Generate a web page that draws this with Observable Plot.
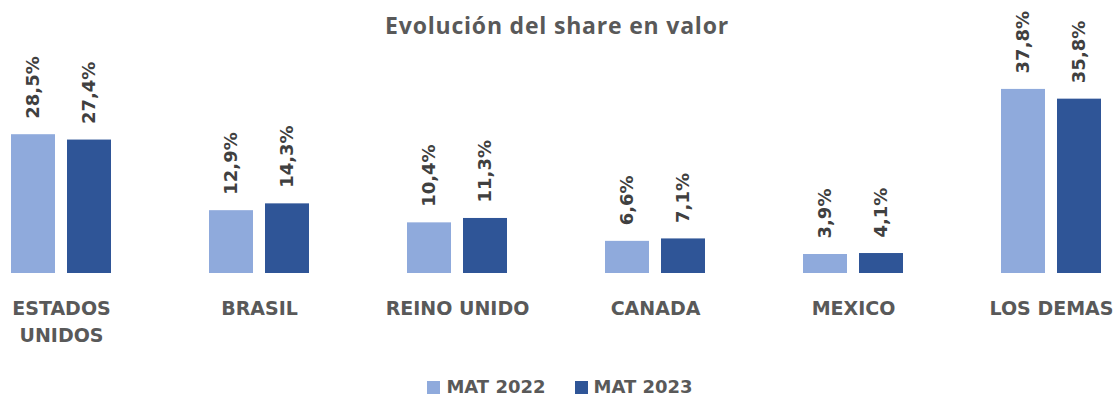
<!DOCTYPE html>
<html>
<head>
<meta charset="utf-8">
<script src="https://cdn.jsdelivr.net/npm/d3@7"></script>
<script src="https://cdn.jsdelivr.net/npm/@observablehq/plot@0.6"></script>
<style>
  html, body { margin: 0; padding: 0; background: #fff; }
  #wrap { position: relative; width: 1120px; height: 402px; overflow: hidden; font-family: "Open Sans", sans-serif; }
  #title { position: absolute; top: 9px; left: 0; width: 1114px; text-align: center; font-size: 23px; font-weight: bold; letter-spacing: 0.8px; color: #595959; }
  #legend { position: absolute; top: 377px; left: 0; width: 1120px; display: flex; justify-content: center; gap: 29px; font-family: "DejaVu Sans", sans-serif; font-size: 18px; font-weight: bold; color: #595959; line-height: 20px; }
  #legend span.item { display: inline-flex; align-items: center; gap: 6px; }
  #legend span.sw { display: inline-block; width: 13px; height: 13px; }
  #chart svg { position: absolute; top: 0; left: 0; }
</style>
</head>
<body>
<div id="wrap">
  <div id="title">Evolución del share en valor</div>
  <div id="chart"></div>
  <div id="legend"></div>
</div>
<script>
const categories = ["ESTADOS UNIDOS", "BRASIL", "REINO UNIDO", "CANADA", "MEXICO", "LOS DEMAS"];
const tickLabels = ["ESTADOS\nUNIDOS", "BRASIL", "REINO UNIDO", "CANADA", "MEXICO", "LOS DEMAS"];
const series = ["MAT 2022", "MAT 2023"];
const mat2022 = [28.5, 12.9, 10.4, 6.6, 3.9, 37.8];
const mat2023 = [27.4, 14.3, 11.3, 7.1, 4.1, 35.8];
const colors = ["#8FAADC", "#2F5597"];

const rows = [];
categories.forEach((c, i) => {
  rows.push({cat: c, series: series[0], value: mat2022[i]});
  rows.push({cat: c, series: series[1], value: mat2023[i]});
});
const labelRows = categories.map((c, i) => ({cat: c, label: tickLabels[i]}));
const fmt = v => v.toFixed(1).replace(".", ",") + "%";

const offsets = {"MAT 2022": -28, "MAT 2023": 28};
const marks = [];
series.forEach((s, k) => {
  const data = rows.filter(r => r.series === s);
  marks.push(Plot.barY(data, {
    x: "cat", y: "value", fill: colors[k], insetLeft: 77, insetRight: 77, dx: offsets[s]
  }));
  marks.push(Plot.text(data, {
    x: "cat", y: "value", text: d => fmt(d.value), rotate: -90, textAnchor: "start",
    dx: offsets[s], dy: -16, fontSize: 18, fontWeight: "bold", fill: "#404040",
    fontFamily: "DejaVu Sans"
  }));
});
marks.push(Plot.text(labelRows, {
  x: "cat", y: 0, text: "label", lineAnchor: "top", dy: 22, lineHeight: 1.42,
  fontSize: 19, fontWeight: "bold", fill: "#595959", fontFamily: "DejaVu Sans"
}));

const chart = Plot.plot({
  width: 1120,
  height: 402,
  marginLeft: 0, marginRight: 0, marginTop: 0, marginBottom: 0,
  style: {fontFamily: "'Open Sans', sans-serif", background: "transparent"},
  x: {domain: categories, range: [-38, 1150], padding: 0, axis: null},
  y: {domain: [0, 40], range: [273, 273 - 4.87 * 40], axis: null},
  marks
});
document.getElementById("chart").appendChild(chart);

const legend = document.getElementById("legend");
series.forEach((s, k) => {
  const item = document.createElement("span");
  item.className = "item";
  const sw = document.createElement("span");
  sw.className = "sw";
  sw.style.background = colors[k];
  item.appendChild(sw);
  item.appendChild(document.createTextNode(s));
  legend.appendChild(item);
});
</script>
</body>
</html>
